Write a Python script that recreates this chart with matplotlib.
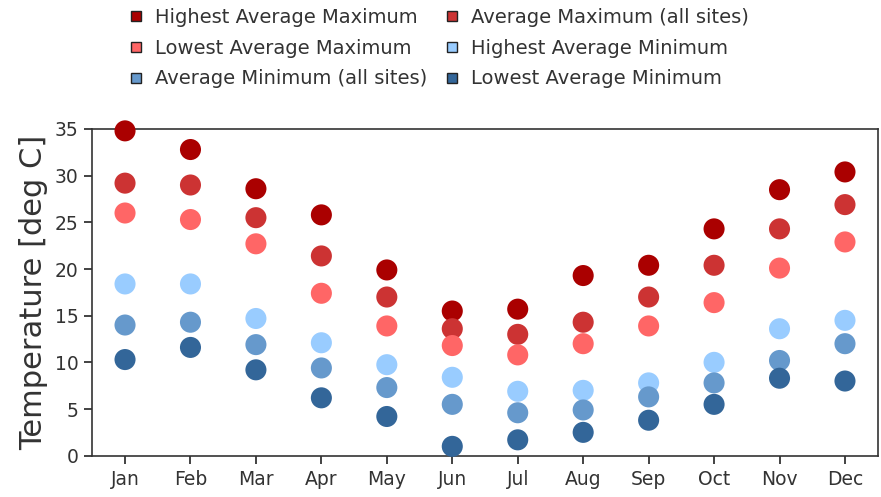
import matplotlib
matplotlib.use("Agg")
import matplotlib.pyplot as plt
from matplotlib.lines import Line2D

months = ["Jan", "Feb", "Mar", "Apr", "May", "Jun", "Jul", "Aug", "Sep", "Oct", "Nov", "Dec"]
highest_avg_max = [34.8, 32.8, 28.6, 25.8, 19.9, 15.5, 15.7, 19.3, 20.4, 24.3, 28.5, 30.4]
avg_max_all = [29.2, 29.0, 25.5, 21.4, 17.0, 13.6, 13.0, 14.3, 17.0, 20.4, 24.3, 26.9]
lowest_avg_max = [26.0, 25.3, 22.7, 17.4, 13.9, 11.8, 10.8, 12.0, 13.9, 16.4, 20.1, 22.9]
highest_avg_min = [18.4, 18.4, 14.7, 12.1, 9.75, 8.4, 6.9, 7.0, 7.8, 10.0, 13.6, 14.5]
avg_min_all = [14.0, 14.3, 11.9, 9.4, 7.3, 5.5, 4.6, 4.9, 6.3, 7.8, 10.2, 12.0]
lowest_avg_min = [10.3, 11.6, 9.2, 6.2, 4.2, 1.0, 1.7, 2.5, 3.8, 5.5, 8.3, 8.0]

series = [
    ("Highest Average Maximum", highest_avg_max, "#AA0000"),
    ("Average Maximum (all sites)", avg_max_all, "#CC3333"),
    ("Lowest Average Maximum", lowest_avg_max, "#FF6666"),
    ("Highest Average Minimum", highest_avg_min, "#99CCFF"),
    ("Average Minimum (all sites)", avg_min_all, "#6699CC"),
    ("Lowest Average Minimum", lowest_avg_min, "#336699"),
]

W, H = 881, 497
fig = plt.figure(figsize=(W / 100, H / 100), dpi=100)
ax = fig.add_axes([92.3 / W, (H - 455.7) / H, (877.7 - 92.3) / W, (455.7 - 129) / H])

x = list(range(len(months)))
handles = []
for name, vals, col in series:
    ax.scatter(x, vals, s=230, color=col, edgecolors="none", zorder=3, clip_on=False)
    handles.append(Line2D([], [], linestyle="none", marker="s", markersize=7.5,
                          markerfacecolor=col, markeredgecolor="#222222",
                          markeredgewidth=1.0, label=name))

ax.set_xlim(-0.5, 11.5)
ax.set_ylim(0, 35)
ax.set_xticks(x)
ax.set_xticklabels(months)
ax.set_yticks(range(0, 36, 5))
ax.tick_params(axis="both", direction="out", length=6, width=1.2, colors="#222222",
               labelsize=13.5, labelcolor="#333333")
ax.tick_params(axis="x", pad=4)
ax.tick_params(axis="y", pad=4)
for sp in ax.spines.values():
    sp.set_color("#333333")
    sp.set_linewidth(1.2)
ax.set_ylabel("Temperature [deg C]", fontsize=22, color="#333333", labelpad=5)

order = [0, 2, 4, 1, 3, 5]
fig.legend([handles[i] for i in order], [handles[i].get_label() for i in order],
           ncol=2, loc="upper left", bbox_to_anchor=(129 / W, 1 - 8 / H), frameon=False,
           borderpad=0, borderaxespad=0,
           fontsize=14, handlelength=0.75, handletextpad=0.6, columnspacing=0.9,
           labelspacing=0.6, labelcolor="#333333")

fig.savefig("out.png", dpi=100)
